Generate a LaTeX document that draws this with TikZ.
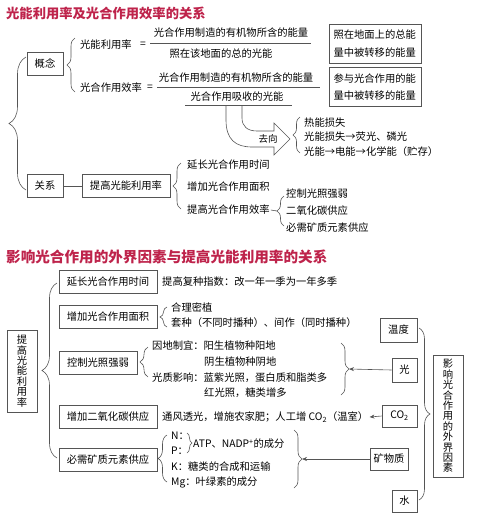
\documentclass[tikz,border=0pt]{standalone}
\usepackage{fontspec}
\setmainfont{Noto Sans CJK SC}
\usetikzlibrary{arrows.meta, decorations.pathreplacing}
\definecolor{titlered}{RGB}{190,35,75}
\definecolor{linegray}{RGB}{85,85,85}

\begin{document}
\begin{tikzpicture}[
    x=1pt, y=-1pt,
    font=\fontsize{10.3}{12}\selectfont,
    txt/.style={anchor=west, inner sep=1pt},
    ttl/.style={anchor=west, inner sep=0pt, text=titlered, font=\fontsize{13.3}{15}\selectfont\bfseries},
    box/.style={draw=linegray, line width=0.7pt, inner sep=0pt, minimum height=23pt},
    vbox/.style={box, align=center, font=\fontsize{10.3}{10.4}\selectfont},
    tbox/.style={box, align=left, text width=84pt, inner sep=4pt, minimum height=39pt,
      font=\fontsize{10.3}{17.5}\selectfont},
    brc/.style={draw=linegray, line width=0.6pt, decorate, decoration={brace, amplitude=#1}},
    brc/.default=8pt,
    rule/.style={draw=linegray, line width=0.6pt},
    arr/.style={draw=linegray, line width=0.6pt, -{Stealth[length=5pt, width=4pt]}},
  ]

  \useasboundingbox (0,0) rectangle (500,515);

  % --- part 1: title and left boxes ---
  \node[ttl] (t1) at (6,13) {光能利用率及光合作用效率的关系};
  \node[box, minimum width=36pt] (gn) at (45,64) {概念};
  \node[box, minimum width=36pt] (gx) at (45,186) {关系};
  \draw[brc=17pt] (26,190) -- (26,57);
  \draw[brc] (75,92) -- (75,38);

  % --- two ratios ---
  \node[txt] (lnl) at (79,45) {光能利用率};
  \node (eq1) at (143,45) {=};
  \node (num1) at (231,33) {光合作用制造的有机物所含的能量};
  \node (den1) at (221,54) {照在该地面的总的光能};
  \draw[rule] (150,43) -- (311,43);

  \node[txt] (xl) at (79,88) {光合作用效率};
  \node (eq2) at (150,88) {=};
  \node (num2) at (236,78) {光合作用制造的有机物所含的能量};
  \node (den2) at (237,97) {光合作用吸收的光能};
  \draw[rule] (157,87) -- (320,87);
  \draw[rule] (185,105) -- (292,105);

  \node[tbox] (b1) at (375.5,43.5) {照在地面上的总能\\量中被转移的能量};
  \node[tbox] (b2) at (375.5,87) {参与光合作用的能\\量中被转移的能量};

  % --- fate of absorbed light ---
  \draw[rule] (226,105) -- (226,120) .. controls (226,140) and (236,147) .. (252,147)
    -- (274,147) -- (274,155) -- (290,139) -- (274,123) -- (274,131) -- (257,131)
    .. controls (247,131) and (242,126) .. (242,118) -- (242,105);
  \node[font=\fontsize{9.5}{11}\selectfont] (qx) at (268,139) {去向};
  \draw[brc=7pt] (300,153) -- (300,117);
  \node[txt] (q1) at (303,123) {热能损失};
  \node[txt] (q2) at (303,137) {光能损失→荧光、磷光};
  \node[txt] (q3) at (303,152) {光能→电能→化学能（贮存）};

  % --- relation ---
  \node[box, minimum width=88pt] (tg) at (126,186) {提高光能利用率};
  \draw[rule] (gx) -- (tg);
  \draw[brc] (181,209) -- (181,163);
  \node[txt] (r1) at (186,165) {延长光合作用时间};
  \node[txt] (r2) at (186,187) {增加光合作用面积};
  \node[txt] (r3) at (186,210) {提高光合作用效率};
  \coordinate (r3tip) at (277,211);
  \draw[rule] (r3.east) -- (r3tip);
  \draw[brc=7pt] (284,226) -- (284,196);
  \node[txt] (p1) at (285,194) {控制光照强弱};
  \node[txt] (p2) at (285,211) {二氧化碳供应};
  \node[txt] (p3) at (285,228) {必需矿质元素供应};

  % --- part 2: title and left column ---
  \node[ttl, font=\fontsize{14.6}{16}\selectfont\bfseries] (t2) at (6,257)
    {影响光合作用的外界因素与提高光能利用率的关系};
  \node[vbox, minimum width=30pt, minimum height=82pt] (lb) at (22,371)
    {提\\高\\光\\能\\利\\用\\率};
  \draw[brc=15pt] (57,458) -- (57,283);

  \node[box, minimum width=98pt] (f1) at (108,281.5) {延长光合作用时间};
  \node[box, minimum width=98pt] (f2) at (108,316.5) {增加光合作用面积};
  \node[box, minimum width=78pt] (f3) at (98,362.5) {控制光照强弱};
  \node[box, minimum width=98pt] (f4) at (108,416.5) {增加二氧化碳供应};
  \node[box, minimum width=98pt] (f5) at (108,459.5) {必需矿质元素供应};

  % --- measures ---
  \node[txt] (s1) at (161,282) {提高复种指数：改一年一季为一年多季};

  \draw[brc=7pt] (167,327) -- (167,307);
  \node[txt] (s2a) at (170,308) {合理密植};
  \node[txt] (s2b) at (170,323) {套种（不同时播种）、间作（同时播种）};

  \draw[brc] (148,377) -- (148,347);
  \node[txt] (s3a) at (151,346) {因地制宜：阳生植物种阳地};
  \node[txt] (s3b) at (203,362) {阴生植物种阴地};
  \node[txt] (s3c) at (151,378) {光质影响：蓝紫光照，蛋白质和脂类多};
  \node[txt] (s3d) at (203,393) {红光照，糖类增多};
  \draw[brc] (341,343) -- (341,395);
  \coordinate (s3tip) at (349,369);

  \node[txt] (s4) at (161,417) {通风透光，增施农家肥；人工增 CO\textsubscript{2}（温室）};

  \draw[brc=9pt] (167,482) -- (167,435);
  \node[txt] (s5n) at (170,436) {N：};
  \node[txt] (s5p) at (170,451) {P：};
  \draw[brc=5pt] (187,433) -- (187,453);
  \node[txt] (s5a) at (192,444) {ATP、NADP\textsuperscript{+}的成分};
  \node[txt] (s5k) at (170,467) {K：糖类的合成和运输};
  \node[txt] (s5m) at (170,482) {Mg：叶绿素的成分};
  \draw[brc] (294,430) -- (294,488);
  \coordinate (s5tip) at (302,459);

  % --- external factors ---
  \node[box, minimum width=37pt, minimum height=24pt] (wd) at (398.5,330) {温度};
  \node[box, minimum width=25pt, minimum height=24pt] (gz) at (404.5,370) {光};
  \node[box, minimum width=35pt, minimum height=22pt] (co) at (399.5,416) {CO\textsubscript{2}};
  \node[box, minimum width=38pt, minimum height=22pt] (kw) at (389,459) {矿物质};
  \node[box, minimum width=25pt, minimum height=22pt] (sh) at (404.5,501) {水};
  \draw[brc=11pt] (419,328) -- (419,500);
  \node[vbox, minimum width=30pt, minimum height=122pt] (rb) at (448,416)
    {影\\响\\光\\合\\作\\用\\的\\外\\界\\因\\素};

  % --- arrows ---
  \draw[arr] (gz.west) -- (s3tip);
  \draw[arr] (co.west) -- (s4.east);
  \draw[arr] (kw.west) -- (s5tip);

\end{tikzpicture}
\end{document}
